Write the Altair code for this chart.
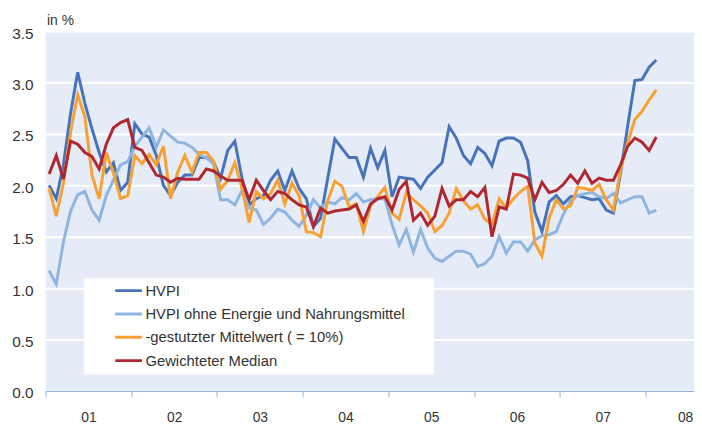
import json
import altair as alt
import pandas as pd

# Monthly values, Jan 2001 .. Feb 2008 (86 months)
hvpi = [2.00, 1.87, 2.20, 2.70, 3.10, 2.80, 2.55, 2.32, 2.13, 2.22, 1.95, 2.03,
        2.60, 2.50, 2.47, 2.29, 2.00, 1.90, 2.03, 2.10, 2.10, 2.27, 2.27, 2.23,
        2.07, 2.34, 2.43, 2.07, 1.81, 1.87, 1.90, 2.05, 2.14, 1.95, 2.14, 1.97,
        1.87, 1.60, 1.68, 2.07, 2.45, 2.36, 2.27, 2.27, 2.08, 2.36, 2.17, 2.34,
        1.89, 2.08, 2.07, 2.06, 1.97, 2.08, 2.15, 2.22, 2.57, 2.46, 2.29, 2.21,
        2.37, 2.31, 2.19, 2.43, 2.46, 2.46, 2.42, 2.24, 1.74, 1.55, 1.84, 1.90,
        1.82, 1.89, 1.90, 1.88, 1.86, 1.87, 1.76, 1.73, 2.12, 2.58, 3.02, 3.03,
        3.15, 3.22]
core = [1.17, 1.04, 1.45, 1.75, 1.91, 1.94, 1.76, 1.66, 1.90, 2.05, 2.20, 2.23,
        2.38, 2.47, 2.56, 2.37, 2.54, 2.48, 2.42, 2.41, 2.37, 2.30, 2.27, 2.21,
        1.86, 1.86, 1.81, 1.95, 1.78, 1.76, 1.62, 1.68, 1.77, 1.74, 1.66, 1.60,
        1.71, 1.86, 1.78, 1.84, 1.82, 1.88, 1.86, 1.92, 1.84, 1.86, 1.87, 1.87,
        1.62, 1.42, 1.57, 1.35, 1.57, 1.39, 1.29, 1.26, 1.31, 1.36, 1.36, 1.33,
        1.21, 1.24, 1.31, 1.50, 1.34, 1.45, 1.45, 1.36, 1.47, 1.51, 1.52, 1.55,
        1.72, 1.85, 1.90, 1.92, 1.93, 1.89, 1.87, 1.92, 1.83, 1.86, 1.89, 1.89,
        1.73, 1.76]
trimmed = [1.97, 1.70, 2.02, 2.52, 2.88, 2.67, 2.10, 1.87, 2.32, 2.12, 1.87, 1.90,
           2.29, 2.21, 2.30, 2.20, 2.38, 1.87, 2.13, 2.29, 2.13, 2.32, 2.32, 2.24,
           1.96, 2.05, 2.22, 1.97, 1.64, 1.94, 1.87, 1.92, 2.05, 1.82, 2.02, 1.90,
           1.55, 1.54, 1.50, 1.85, 2.04, 1.99, 1.79, 1.82, 1.55, 1.80, 1.89, 1.98,
           1.73, 1.67, 1.93, 1.86, 1.80, 1.73, 1.55, 1.61, 1.73, 1.97, 1.85, 1.77,
           1.81, 1.67, 1.62, 1.87, 1.78, 1.87, 1.94, 1.99, 1.44, 1.31, 1.68, 1.86,
           1.77, 1.80, 1.98, 1.97, 1.95, 2.01, 1.86, 1.76, 2.15, 2.42, 2.64, 2.72,
           2.83, 2.93]
median = [2.11, 2.29, 2.06, 2.43, 2.40, 2.32, 2.28, 2.16, 2.40, 2.56, 2.61, 2.64,
          2.37, 2.34, 2.22, 2.10, 2.08, 2.03, 2.07, 2.06, 2.06, 2.06, 2.16, 2.14,
          2.09, 2.05, 2.05, 2.05, 1.86, 2.05, 1.95, 1.86, 1.94, 1.92, 1.86, 1.81,
          1.79, 1.60, 1.78, 1.73, 1.75, 1.76, 1.77, 1.81, 1.65, 1.82, 1.87, 1.89,
          1.76, 1.96, 2.04, 1.66, 1.73, 1.61, 1.70, 1.97, 1.80, 1.86, 1.86, 1.94,
          1.89, 1.98, 1.50, 1.79, 1.77, 2.11, 2.10, 2.07, 1.86, 2.03, 1.93, 1.95,
          2.01, 2.10, 2.02, 2.14, 2.02, 2.07, 2.05, 2.05, 2.20, 2.38, 2.46, 2.42,
          2.34, 2.47]

series_names = ["HVPI",
                "HVPI ohne Energie und Nahrungsmittel",
                "-gestutzter Mittelwert ( = 10%)",
                "Gewichteter Median"]
series_values = [hvpi, core, trimmed, median]
colors = ["#4674BC", "#8DB5E2", "#F8A031", "#B0282F"]
widths = [3, 3, 3, 2]
year_labels = ["01", "02", "03", "04", "05", "06", "07", "08"]
y_ticks = [0.0, 0.5, 1.0, 1.5, 2.0, 2.5, 3.0, 3.5]

rows = []
for name, vals in zip(series_names, series_values):
    for i, v in enumerate(vals):
        rows.append({"t": i + 0.5, "v": v, "s": name})
df = pd.DataFrame(rows)

FONT = "Liberation Sans, Arial, sans-serif"
year_ticks = [12 * k for k in range(len(year_labels))]
label_expr = f"{json.dumps(year_labels)}[round(datum.value / 12)]"
last_tick = year_ticks[-1]

legend = alt.Legend(
    title="\u00a0", titleOrient="right", titleFontSize=1, titlePadding=24,
    orient="none", legendX=39, legendY=250,
    fillColor="white", padding=5, rowPadding=7.6, clipHeight=15,
    labelFont=FONT, labelFontSize=15, labelColor="#333333", labelLimit=600,
    symbolType="stroke", symbolSize=729, symbolOffset=25, labelOffset=2,
)

chart = alt.Chart(df).mark_line(clip=True).encode(
    x=alt.X("t:Q", scale=alt.Scale(domain=[0, 90.78], nice=False, zero=False),
            axis=alt.Axis(values=year_ticks, labelExpr=label_expr, title=None,
                          grid=False, domainColor="#8DB3E2", tickColor="#8DB3E2",
                          tickSize=6, labelPadding=14,
                          labelOffset=alt.ExprRef(expr=f"datum.value >= {last_tick} ? 40 : 43.35"),
                          labelFlush=False, labelFont=FONT, labelFontSize=14,
                          labelColor="#333333", labelOverlap=False)),
    y=alt.Y("v:Q", scale=alt.Scale(domain=[0, 3.5], nice=False),
            axis=alt.Axis(values=y_ticks, format=".1f", domain=False,
                          ticks=False, tickSize=0, labelPadding=12.7,
                          labelOffset=2,
                          gridColor="white", gridWidth=2, labelFont=FONT,
                          labelFontSize=15.5, labelColor="#333333",
                          title="in %", titleAngle=0, titleAlign="left",
                          titleBaseline="alphabetic", titleX=1, titleY=-6.3,
                          titleFont=FONT, titleFontSize=14, titleFontWeight="normal",
                          titleColor="#333333")),
    color=alt.Color("s:N", scale=alt.Scale(domain=series_names, range=colors),
                    legend=legend),
    strokeWidth=alt.StrokeWidth("s:N", scale=alt.Scale(domain=series_names, range=widths),
                                legend=legend),
).properties(
    width=656, height=364,
    autosize=alt.AutoSizeParams(type="none"),
    padding={"left": 38, "top": 21, "right": 0, "bottom": 32},
).configure_view(
    fill="#E6ECF7", stroke=None
)

chart.save("out.html", embed_options={"renderer": "svg", "actions": False})
